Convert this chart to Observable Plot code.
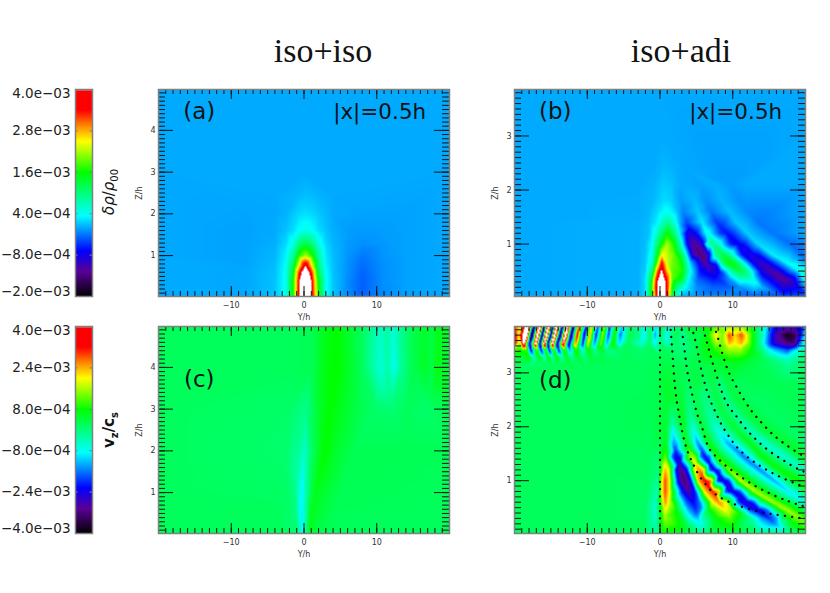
<!DOCTYPE html>
<html>
<head>
<meta charset="utf-8">
<script src="https://cdn.jsdelivr.net/npm/d3@7"></script>
<script src="https://cdn.jsdelivr.net/npm/@observablehq/plot@0.6"></script>
<style>
  body { margin: 0; background: #fff; }
  #fig { position: relative; width: 830px; height: 593px; overflow: hidden; }
  #fig svg { position: absolute; background: transparent; }
  .title { position: absolute; top: 32px; width: 200px; text-align: center; font: 34px "Liberation Serif"; color: #111; }
  .barlabel { position: absolute; width: 120px; text-align: center; transform: rotate(-90deg); font: 15px "DejaVu Sans"; color: #111; white-space: nowrap; }
  .barlabel sub { font-size: 10px; }
</style>
</head>
<body>
<div id="fig"></div>
<script>
// all field values are in units of 1e-3
const rampStops = [0, 0.12, 0.22, 0.39, 0.6, 0.75, 0.82, 0.9, 0.995, 1]
const rampColors = ['#000000', '#5a0096', '#0000ff', '#00ffff', '#00ff00', '#ffff00', '#ff9000', '#ff0000', '#ff0000', '#ffffff']

const barTicksTop = [-2, -0.8, 0.4, 1.6, 2.8, 4]
const barLabelsTop = ['−2.0e−03', '−8.0e−04', '4.0e−04', '1.6e−03', '2.8e−03', '4.0e−03']
const barTicksBottom = [-4, -2.4, -0.8, 0.8, 2.4, 4]
const barLabelsBottom = ['−4.0e−03', '−2.4e−03', '−8.0e−04', '8.0e−04', '2.4e−03', '4.0e−03']

// panel a: rows at height z, each a list of [Y, value] knots
const panelAz = [0.02, 0.4, 0.6, 0.75, 1, 1.3, 1.6, 2, 2.45, 3, 4.98]
const panelArows = [
  [[-20,0],[-13,0],[-8,-0.01],[-4,0.1],[-2.5,0.4],[-1.5,1.6],[-0.8,3.4],[-0.5,4.4],[0.2,7],[0.9,4.4],[1.2,3.4],[2,1.7],[3,0.4],[4,0.12],[6,-0.12],[8,-0.3],[11,-0.12],[14,-0.03],[20,0]],
  [[-20,0],[-13,0],[-8,-0.01],[-4,0.1],[-2.5,0.4],[-1.5,1.6],[-0.8,3.3],[-0.5,4.2],[0.2,5.5],[0.9,4.2],[1.2,3.3],[2,1.5],[3,0.4],[4,0.12],[6,-0.12],[8,-0.3],[11,-0.1],[14,-0.03],[20,0]],
  [[-20,0],[-13,0],[-8,-0.01],[-4,0.09],[-2.5,0.38],[-1.5,1.4],[-0.8,3],[-0.3,4],[0.2,4.8],[0.7,4],[1.2,3],[2,1.2],[3,0.35],[4,0.1],[6,-0.1],[8,-0.28],[11,-0.1],[14,-0.03],[20,0]],
  [[-20,0],[-13,0],[-8,-0.02],[-4,0.08],[-2.5,0.35],[-1.5,1.2],[-0.8,2.3],[0.2,4],[1.2,2.3],[2,1],[3,0.3],[4,0.1],[6,-0.1],[8,-0.25],[11,-0.1],[14,-0.03],[20,0]],
  [[-20,0],[-13,-0.02],[-8,-0.03],[-4,0.05],[-2.5,0.28],[-1.5,0.8],[-0.8,1.6],[0.2,2.2],[1.2,1.6],[2,0.8],[3,0.25],[4,0.08],[6,-0.08],[8,-0.2],[11,-0.08],[14,-0.03],[20,0]],
  [[-20,0],[-13,-0.02],[-8,-0.03],[-4,0.02],[-2.5,0.18],[-1.5,0.45],[-0.8,0.9],[0.2,1.2],[1.2,0.9],[2,0.45],[3,0.17],[4,0.05],[6,-0.06],[8,-0.1],[11,-0.06],[14,-0.03],[20,0]],
  [[-20,0],[-13,-0.02],[-8,-0.03],[-4,0],[-2.5,0.1],[-1.5,0.2],[-0.8,0.35],[0.2,0.45],[1.2,0.35],[2,0.2],[3,0.1],[4,0.02],[6,-0.05],[8,-0.06],[11,-0.05],[14,-0.03],[20,0]],
  [[-20,0],[-8,-0.02],[-4,-0.01],[-2.5,0.03],[-0.8,0.18],[0.2,0.22],[1.2,0.18],[2,0.12],[3,0.06],[4,0],[8,-0.03],[14,-0.03],[20,0]],
  [[-20,0],[-4,0],[-0.8,0.05],[0.2,0.08],[1.2,0.07],[2,0.04],[4,0],[20,0]],
  [[-20,0],[0,0],[20,0]],
  [[-20,0],[0,0],[20,0]]
]

// panel b: central lobe as rows, the slanted waves as crest/trough lists of [Y, z, value]
const panelBz = [0.03, 0.2, 0.35, 0.5, 0.65, 0.8, 1, 1.2, 1.4, 1.6, 1.8, 2.1, 2.45, 3, 3.86]
const panelBrows = [
  [[-20,0],[-3,0.02],[-2,0.2],[-1,1.9],[-0.5,3.4],[0.2,6],[1,3.4],[1.5,2],[2.2,0.6],[3,0.05],[5,-0.1],[9,-0.15],[13,-0.3],[17,-0.45],[20,-0.3]],
  [[-20,0],[-3,0.02],[-2,0.2],[-1.2,1.5],[-0.6,3.4],[0.2,5.5],[1,3.4],[1.7,1.6],[2.6,0.8],[3.6,0.3],[5,-0.1],[7.3,-0.3],[9.5,-0.3],[11,-0.1]],
  [[-20,0],[-3,0.02],[-2,0.2],[-1.2,1.3],[-0.5,3.4],[0.2,4.8],[0.95,3.4],[1.7,1.9],[3,1.4],[4,0.3],[5.2,-0.3],[9.5,-0.1]],
  [[-20,0],[-3,0.02],[-2,0.15],[-1.1,0.9],[-0.4,2.9],[0.2,4.2],[0.85,2.9],[1.7,1.9],[3,1.7],[4.3,0.3]],
  [[-20,0],[-3,0.02],[-2,0.12],[-1,0.6],[-0.4,1.9],[0.25,3.5],[0.9,2.4],[1.7,2],[3,1.6],[4.2,0.1]],
  [[-20,0],[-3,0.02],[-2,0.1],[-1,0.5],[-0.3,1.5],[0.3,2.5],[1,2.3],[2,1.9],[3.2,1]],
  [[-20,0],[-3,0.02],[-2,0.08],[-1,0.4],[-0.2,1.2],[1,2.2],[2,1.6],[2.9,0.6]],
  [[-20,0],[-3,0.02],[-1.5,0.1],[-0.6,0.45],[0.3,1.1],[1,1.6],[2,1],[2.7,0.3]],
  [[-20,0],[-3,0.02],[-1.5,0.08],[-0.5,0.25],[0.3,0.6],[1,0.9],[1.8,0.6],[2.6,0.1]],
  [[-20,0],[-3,0.01],[-1.5,0.05],[-0.3,0.2],[0.8,0.4],[1.7,0.28],[2.5,0.05]],
  [[-20,0],[-3,0.01],[-1,0.05],[0.5,0.2],[1.5,0.16]],
  [[-20,0],[-3,0],[-1,0.03],[0.5,0.13],[1.5,0.1],[3,0],[7.5,0.02],[12,0],[20,0]],
  [[-20,0],[-3,0],[-1,0],[0.5,0.05],[1.7,0.03],[3,0],[20,0]],
  [[-20,0],[0,0],[20,0]],
  [[-20,0],[0,0],[20,0]]
]
const panelBwaves = [
  [[7.9,0.38,-0.6],[7.6,0.43,-0.8],[7.3,0.48,-0.9],[7,0.54,-1],[6.7,0.6,-1.15],[6.3,0.67,-1.3],[5.9,0.74,-1.4],[5.5,0.8,-1.45],[5.2,0.9,-1.4],[4.8,1,-1.3],[4.5,1.1,-1.1],[4.2,1.2,-0.9],[3.95,1.3,-0.65],[3.7,1.4,-0.4],[3.4,1.5,-0.25],[3.2,1.6,-0.15],[2.9,1.8,-0.05]],
  [[5.7,0.6,-0.85],[4.5,0.8,-1],[3.9,1,-0.9],[3.5,1.2,-0.6],[8.3,0.48,-0.55],[7.7,0.6,-0.8],[6.6,0.8,-1],[5.8,1,-0.9],[5.1,1.2,-0.6]],
  [[14,0.2,0.05],[13.4,0.27,0.3],[12.8,0.33,0.5],[11.9,0.42,0.9],[11,0.5,1.3],[10.3,0.58,1.5],[9.7,0.65,1.6],[9.1,0.73,1.5],[8.7,0.8,1.3],[8,0.9,1.1],[7.3,1,0.9],[6.9,1.1,0.7],[6.5,1.2,0.5],[6.1,1.3,0.35],[5.8,1.4,0.25],[5.2,1.6,0.12],[4.8,1.8,0.06]],
  [[10,0.5,0.9],[8.7,0.65,1.1],[7.7,0.8,0.9],[6.5,1,0.6],[12,0.5,0.9],[10.7,0.65,1.1],[9.6,0.8,0.9],[8.1,1,0.6]],
  [[20,0.12,-0.4],[19,0.2,-0.7],[18,0.28,-1.05],[17,0.35,-1.3],[16.1,0.43,-1.3],[15.3,0.5,-1.2],[14.6,0.58,-1.1],[14,0.65,-1],[13.2,0.73,-0.9],[12.5,0.8,-0.85],[11.6,0.9,-0.8],[10.7,1,-0.75],[9.9,1.1,-0.7],[9.2,1.2,-0.65],[8.5,1.3,-0.55],[7.8,1.4,-0.45],[7,1.6,-0.2],[6.3,1.8,-0.1],[5.5,2.1,-0.03]],
  [[15.7,0.35,-0.9],[14,0.5,-0.85],[12.8,0.65,-0.7],[11.3,0.8,-0.6],[9.7,1,-0.55],[8.3,1.2,-0.45],[18.3,0.35,-0.9],[16.5,0.5,-0.85],[15.1,0.65,-0.7],[13.7,0.8,-0.6],[11.7,1,-0.55],[10.1,1.2,-0.45]],
  [[20,0.35,0.5],[20,0.45,0.7],[19.5,0.5,0.55],[18.5,0.58,0.45],[17.5,0.65,0.35],[16.5,0.73,0.3],[15.5,0.8,0.28],[14.5,0.9,0.25],[13.5,1,0.2],[12.7,1.1,0.17],[12,1.2,0.15],[10.5,1.4,0.12],[9.5,1.6,0.08],[8.5,1.8,0.04]],
  [[20,0.72,-0.2],[19.5,0.8,-0.25],[18,1,-0.25],[15.5,1.2,-0.2],[13.5,1.4,-0.2],[12,1.6,-0.12],[11,1.8,-0.1],[9.5,2.1,-0.05]],
  [[20,1.2,0],[20,1.6,0]]
]

const panelCz = [0.02, 0.5, 1, 1.5, 2, 3, 4, 4.98]
const panelCrows = [
  [[-20,0.2],[-3,0.2],[-1,0.1],[-0.2,-0.9],[0.3,0],[0.7,0.6],[2,0.3],[5,0.2],[20,0.2]],
  [[-20,0.2],[-3,0.2],[-1.2,0],[-0.3,-1],[0.3,-0.2],[1,0.65],[2,0.45],[4,0.25],[20,0.2]],
  [[-20,0.2],[-2.5,0.15],[-1.2,-0.1],[-0.3,-0.95],[0.5,-0.1],[1.5,0.65],[3,0.45],[5,0.25],[20,0.2]],
  [[-20,0.2],[-2.5,0.12],[-0.9,-0.3],[-0.1,-0.7],[0.8,0.1],[2.2,0.75],[3.8,0.5],[6,0.25],[20,0.22]],
  [[-20,0.2],[-2.5,0.1],[-0.8,-0.2],[0.1,-0.5],[1.4,0.3],[2.8,0.8],[4.5,0.5],[7,0.25],[14,0.25],[20,0.25]],
  [[-20,0.2],[-2,0.12],[0.3,-0.1],[2,0.5],[3.6,0.8],[5.5,0.55],[7.5,0.3],[10,0.1],[12,0.05],[14,0.2],[17,0.1],[20,0.3]],
  [[-20,0.2],[-3,0.2],[1,0.25],[3,0.7],[4.5,0.82],[6.5,0.5],[8,0.2],[9.5,-0.3],[10.5,-0.65],[11.5,-0.3],[12.3,-0.75],[13.5,-0.15],[15,0.3],[16.7,0.55],[17.5,0.35],[18.5,0.7],[20,0.4]],
  [[-20,0.2],[-3,0.2],[1,0.25],[3,0.65],[4.5,0.8],[6.5,0.45],[8,0.2],[9.5,-0.25],[10.5,-0.5],[11.5,-0.25],[12.3,-0.6],[13.5,-0.1],[15,0.3],[16.7,0.5],[17.5,0.35],[18.5,0.65],[20,0.4]]
]

// panel d: crests and troughs as lists of [Y, z, value], plus the wave band along the top as rows
const panelDwaves = [
  [[-0.4,0.03,-0.2],[-0.5,0.15,-0.3],[-0.6,0.3,-0.5],[-0.6,0.45,-0.6],[-0.5,0.6,-0.5],[-0.3,0.8,-0.4],[-0.3,1,-0.2],[-0.2,1.2,0],[-0.2,1.45,0.1],[0,1.7,0.25],[0,1.95,0.4],[0,2.2,0.4]],
  [[0.5,0.03,0.8],[0.6,0.15,1.1],[0.65,0.3,1.5],[0.7,0.45,2],[0.7,0.6,2.6],[0.7,0.8,2.9],[0.7,1,2.9],[0.7,1.2,2.4],[0.75,1.45,1.2],[0.8,1.7,0.6],[0.9,1.95,0.5],[1,2.2,0.4],[1.1,2.5,0.5],[1,2.8,0.5]],
  [[0.25,0.8,1.9],[0.25,1,1.9],[1.3,0.45,1.4],[1.3,0.6,1.8],[1.3,0.8,2],[1.3,1,2],[1.3,1.2,1.7]],
  [[5.8,0.12,-0.5],[5.5,0.22,-0.9],[5.2,0.3,-1.2],[5,0.4,-1.8],[4.8,0.5,-2.1],[4.5,0.6,-2.3],[4.2,0.7,-2.6],[3.9,0.8,-2.9],[3.6,0.9,-3.2],[3.3,1,-3.3],[3.1,1.1,-3.3],[2.9,1.2,-3.1],[2.65,1.32,-2.8],[2.3,1.45,-2.4],[2.1,1.58,-1.9],[1.95,1.7,-1.4],[1.85,1.82,-1.1],[1.75,1.95,-0.8],[1.7,2.08,-0.3],[1.7,2.2,-0.05]],
  [[3.9,0.5,-1.5],[3.6,0.6,-1.7],[3,0.8,-2.1],[2.5,1,-2.4],[2.2,1.2,-2.2],[1.7,1.45,-1.7],[1.55,1.7,-1],[5.7,0.5,-1.5],[5.4,0.6,-1.7],[4.8,0.8,-2.1],[4.2,1,-2.4],[3.7,1.2,-2.2],[3,1.45,-1.7],[2.45,1.7,-1]],
  [[10.5,0.03,0.5],[10,0.15,0.8],[9.7,0.3,1.2],[9.3,0.38,1.7],[9,0.45,2],[8.6,0.52,2.3],[8.1,0.6,2.6],[7.7,0.7,2.9],[7.2,0.8,3.1],[6.7,0.9,3.3],[6.2,1,3.3],[5.8,1.1,3],[5.4,1.2,2.6],[4.9,1.32,2.1],[4.4,1.45,1.5],[4,1.58,1.1],[3.7,1.7,0.7],[3.4,1.82,0.65],[3.2,1.95,0.6],[2.9,2.2,0.6],[2.7,2.5,0.5]],
  [[8,0.45,1.4],[7.2,0.6,1.9],[6.2,0.8,2.2],[5.3,1,2.4],[4.7,1.2,1.9],[3.8,1.45,1.1],[10,0.45,1.4],[9.1,0.6,1.9],[8.1,0.8,2.2],[7.1,1,2.4],[6.1,1.2,1.9],[5,1.45,1.1]],
  [[17.5,0.03,-0.2],[16.3,0.15,-1.1],[15.6,0.22,-1.6],[15,0.3,-2],[14.2,0.38,-2.3],[13.5,0.45,-2.5],[12.6,0.52,-2.6],[11.8,0.6,-2.6],[10.9,0.7,-2.55],[10,0.8,-2.5],[9.3,0.9,-2.55],[8.7,1,-2.6],[8.1,1.1,-2.5],[7.5,1.2,-2.4],[6.8,1.32,-2.3],[6.2,1.45,-2.2],[5.7,1.58,-1.9],[5.2,1.7,-1.5],[4.9,1.82,-1.1],[4.6,1.95,-0.7],[4.2,2.2,-0.2],[3.9,2.5,0]],
  [[14,0.3,-1.4],[12.4,0.45,-1.8],[10.8,0.6,-1.9],[9,0.8,-1.8],[7.9,1,-1.9],[6.8,1.2,-1.7],[5.6,1.45,-1.6],[16,0.3,-1.4],[14.6,0.45,-1.8],[12.8,0.6,-1.9],[11,0.8,-1.8],[9.5,1,-1.9],[8.2,1.2,-1.7],[6.8,1.45,-1.6]],
  [[20,0.15,1.1],[19.5,0.3,1.4],[18.5,0.37,1.5],[17.5,0.45,1.6],[16.5,0.52,1.6],[15.5,0.6,1.6],[14.2,0.7,1.65],[13,0.8,1.7],[12,0.9,1.7],[11,1,1.7],[10.2,1.1,1.6],[9.4,1.2,1.4],[8.6,1.32,1.2],[7.8,1.45,1],[7.2,1.58,0.85],[6.6,1.7,0.7],[6.2,1.82,0.6],[5.9,1.95,0.5],[5.3,2.2,0.4],[4.9,2.5,0.3]],
  [[20,0.6,-0.7],[19,0.68,-0.85],[17.6,0.8,-1],[16.7,0.9,-1.15],[15.7,1,-1.3],[14.7,1.1,-1.4],[13.8,1.2,-1.5],[12.6,1.32,-1.55],[11.5,1.45,-1.6],[10.4,1.58,-1.45],[9.3,1.7,-1.3],[8.6,1.82,-1],[7.9,1.95,-0.7],[7,2.2,-0.3],[6.2,2.5,-0.1]],
  [[20,0.9,0.9],[19.7,0.95,0.9],[18,1.07,0.85],[16.5,1.2,0.8],[15.2,1.32,0.78],[14,1.45,0.75],[13.1,1.58,0.72],[12.3,1.7,0.7],[11.3,1.82,0.6],[10.5,1.95,0.5],[9,2.2,0.4],[8,2.5,0.35],[7.2,2.8,0.3]],
  [[20,1.2,-0.5],[18.5,1.32,-0.55],[17,1.45,-0.6],[15.6,1.58,-0.6],[14.3,1.7,-0.6],[13.2,1.82,-0.5],[12.2,1.95,-0.4],[10.5,2.2,-0.2],[9,2.5,-0.1],[8.2,2.8,-0.05]],
  [[20,1.4,0.6],[19.5,1.45,0.6],[18.2,1.58,0.55],[17,1.7,0.5],[15.7,1.82,0.5],[14.5,1.95,0.5],[12.5,2.2,0.45],[10.7,2.5,0.4],[9.5,2.8,0.35],[8.5,3.1,0.5]],
  [[20,1.7,0.1],[17.5,1.95,0.15],[15,2.2,0.15],[13,2.5,0.15]],
  [[20,2.2,0.25],[20,2.8,0.25],[16,2.8,0.25],[13,2.8,0.25],[11,2.8,0.2],[6.5,2.8,0.15],[5,2.8,0.35],[3.5,2.8,0.2],[2,2.8,0.4],[0.5,2.8,0.5],[-0.5,2.8,0.25]],
  [[3,0.03,0.6],[5.2,0.03,0],[7,0.03,0.4],[13,0.03,0.2],[20,0.03,0.5],[2.6,0.15,0.8],[7.5,0.15,0.5],[7.5,0.3,0.6],[12.5,0.3,-0.2],[2.2,0.45,0.8],[6.7,0.45,0.6],[3.8,0.15,0.3]],
  [[-20,0.02,0.2],[-20,1,0.2],[-20,2,0.2],[-10,0.02,0.2],[-10,1.5,0.2],[-10,3,0.2],[-2,0.03,0.2],[-2,0.6,0.15],[-1.5,1,0.18],[-1.5,1.5,0.2],[-1,2.2,0.25]]
]
const panelDz = [3.1, 3.2, 3.28, 3.42, 3.55, 3.7, 3.86]
const panelDrows = [
  [[-20,0.2],[-15,0.2],[-10,0.2],[-3,0.2],[0.5,0.4],[3,0.25],[6,0.3],[10,0.5],[12,0.35],[14,0.25],[16,0.1],[17.5,-0.1],[20,0.2]],
  [[-20,0.3],[-18,0.4],[-17.3,-0.05],[-16.5,0.4],[-15.8,-0.05],[-15.2,0.4],[-14.6,0],[-14,0.4],[-13.3,0],[-12.6,0.35],[-12,0.1],[-11,0.3],[-9,0.25],[-5,0.2],[0,0.25],[5,0.3],[8,0.5],[9.5,0.6],[11,0.6],[12.5,0.4],[14.5,0.2],[16,0],[17.5,-0.3],[19,0],[20,0.2]],
  [[-20,0.4],[-19,0.4],[-18,0.8],[-17.3,-0.4],[-16.5,0.8],[-15.8,-0.4],[-15.3,0.8],[-14.7,-0.4],[-14.2,0.8],[-13.4,-0.3],[-12.7,0.6],[-12,-0.1],[-11.2,0.5],[-10.3,0],[-9.5,0.4],[-8,0.3],[-5,0.25],[0,0.3],[5,0.3],[8,0.6],[9.5,0.9],[11,0.9],[12.5,0.5],[14.5,0.1],[16,-0.3],[17.5,-0.6],[19,-0.2],[20,0.2]],
  [[-20,1],[-19,0.9],[-18.3,1],[-17.7,-2.4],[-16.9,1.2],[-16.3,-2.4],[-15.7,1.2],[-15.2,-2.4],[-14.6,1.2],[-13.9,-2.2],[-13.1,1.1],[-12.4,-1.4],[-11.5,1],[-10.5,-0.7],[-9.8,0.8],[-8.9,-0.2],[-8,0.6],[-7.2,-0.1],[-5.5,0.1],[-2.5,0.1],[1,0.2],[5,0.3],[7.5,0.9],[9.5,1.5],[11,1.5],[12.5,0.8],[14.5,-0.4],[15.8,-1.2],[17.5,-1.8],[19,-0.7],[20,0]],
  [[-20,3.5],[-19.2,1.5],[-18.7,5],[-17.9,-3.2],[-17.1,5],[-16.5,-3.4],[-15.9,5],[-15.4,-3.4],[-14.8,5],[-14.1,-3.4],[-13.3,4.5],[-12.5,-3],[-11.6,2.8],[-10.6,-2.2],[-9.9,2.1],[-9,-1.6],[-8.1,1.4],[-7.3,-1.3],[-6.5,0.9],[-5.6,-1.1],[-4.5,0.2],[-2.5,-0.6],[-1.5,0.1],[-0.8,-0.8],[0.1,0.1],[0.9,-0.6],[2,0.2],[3.2,-0.1],[5,0.3],[7,0.9],[7.8,1.6],[8.6,1.3],[9.5,2.4],[10.3,2],[11.2,2.4],[12.3,1.3],[13.5,0.1],[14.6,-1.3],[15.6,-2.5],[17.2,-3.1],[18.4,-3.3],[19.3,-1.6],[20,-0.5]],
  [[-20,3.8],[-19.4,2],[-18.4,6],[-17.6,-4.5],[-16.8,6],[-16.2,-4],[-15.6,6],[-15,-4],[-14.5,6],[-13.7,-4],[-13,6],[-12.2,-3.6],[-11.4,3.6],[-10.4,-2.8],[-9.7,2.7],[-8.8,-2.2],[-7.9,1.7],[-7.1,-2],[-6.3,1],[-5.5,-1.6],[-4.3,0.2],[-3,0],[-2.3,-1],[-1.3,0.2],[-0.7,-1.4],[0.1,0.2],[0.9,-0.8],[2,0.3],[3.2,-0.2],[4.5,0.4],[5.5,0.2],[6.5,0.7],[7.7,2],[8.6,1.4],[9.5,2.9],[10.3,2.2],[11.2,2.9],[12.3,1.4],[13.2,0.3],[14.2,-0.6],[15.2,-2],[16.2,-3],[17.4,-3.8],[18.5,-3.6],[19.3,-2.3],[20,-0.9]],
  [[-20,3],[-19.1,2],[-18.1,6],[-17.3,-4],[-16.5,6],[-15.9,-3.5],[-15.3,6],[-14.7,-3.5],[-14.2,6],[-13.4,-3.5],[-12.7,5],[-11.9,-3.2],[-11.1,3.2],[-10.1,-2.4],[-9.4,2.2],[-8.5,-1.8],[-7.6,1.4],[-6.8,-1.6],[-6,0.9],[-5.2,-1.2],[-4,0.2],[-2.1,-0.7],[-1.1,0.2],[-0.5,-1],[0.3,0.2],[1.1,-0.5],[3,0.2],[5,0.5],[7,0.8],[8,1.3],[9.5,1.5],[11.2,1.5],[12.5,0.8],[13.5,0.1],[14.5,-0.8],[15.5,-2],[17,-2.5],[18.5,-2.5],[19.5,-2.2],[20,-1.5]]
]

// dotted curves of panel d, [Y, z]
const dottedCurves = [
  [[0,0.03],[0,1],[0,2],[0,3],[0,3.82]],
  [[1.47,3.8],[1.6,3.57],[1.74,3.32],[1.92,2.95],[2.06,2.73],[2.29,2.46],[2.61,2.24],[3.07,1.87],[3.8,1.51],[4.58,1.31],[5.27,1.1],[6.41,0.91],[7.33,0.76],[9.39,0.6],[11.91,0.48],[14.66,0.39],[16.95,0.35],[19.7,0.3]],
  [[2.98,3.8],[3.21,3.6],[3.34,3.46],[3.66,3.1],[3.94,2.89],[4.35,2.64],[4.81,2.39],[5.27,2.15],[5.73,2.04],[6.18,1.78],[6.78,1.56],[7.79,1.44],[8.93,1.28],[10.63,1.12],[12.83,0.91],[15.57,0.73],[17.87,0.6],[19.93,0.52]],
  [[4.58,3.74],[5.04,3.51],[5.36,3.26],[5.73,3.01],[6.41,2.67],[7.01,2.44],[7.79,2.23],[8.47,2.02],[9.39,1.84],[10.31,1.65],[11.68,1.47],[13.28,1.31],[15.12,1.16],[17.41,1.01],[19.7,0.89]],
  [[6.18,3.69],[6.64,3.48],[7.1,3.23],[7.92,2.89],[8.7,2.55],[9.62,2.33],[10.31,2.23],[11.22,2.06],[12.37,1.87],[13.51,1.72],[15.12,1.53],[16.95,1.38],[18.78,1.22],[19.93,1.16]],
  [[7.7,3.76],[8.02,3.63],[8.25,3.51],[8.93,3.18],[9.62,2.95],[10.54,2.73],[11.45,2.52],[12.37,2.33],[13.06,2.21],[14.2,2.04],[15.35,1.87],[16.72,1.72],[18.32,1.57],[19.93,1.44]]
]

const fig = d3.select('#fig')

function place(svg, left, top) {
  svg.style.left = left + 'px'
  svg.style.top = top + 'px'
  fig.append(() => svg)
}

function rampFor(lo, hi) {
  return {type: 'linear', domain: rampStops.map(t => lo + (hi - lo) * t), range: rampColors, clamp: true}
}

const rowPoints = (zs, rows) => zs.flatMap((z, i) => rows[i].map(([Y, v]) => ({Y, z, v})))
const wavePoints = waves => waves.flat().map(([Y, z, v]) => ({Y, z, v}))

function panel(o) {
  const innerW = 291, innerH = 207
  const [z0, z1] = o.yDomain
  const pxY = 40 / innerW, pxZ = (z1 - z0) / innerH
  const minorX = d3.range(-20, 21)
  const minorY = d3.range(0.1, z1, 0.1).filter(d => d > z0)
  const majorX = [-10, 0, 10]
  const xTicks = (vals, len) => [
    Plot.ruleX(vals, {x: d => d, y1: z0, y2: z0 + len * pxZ, stroke: '#111'}),
    Plot.ruleX(vals, {x: d => d, y1: z1, y2: z1 - len * pxZ, stroke: '#111'})
  ]
  const yTicks = (vals, len) => [
    Plot.ruleY(vals, {y: d => d, x1: -20, x2: -20 + len * pxY, stroke: '#111'}),
    Plot.ruleY(vals, {y: d => d, x1: 20, x2: 20 - len * pxY, stroke: '#111'})
  ]
  const marks = [
    Plot.raster(o.points, {x: 'Y', y: 'z', fill: 'v', interpolate: 'barycentric'}),
    ...(o.curves || []).map(c => Plot.line(c, {x: d => d[0], y: d => d[1], stroke: '#000', strokeWidth: 2.2, strokeDasharray: '0.1 7.2', curve: 'basis'})),
    ...xTicks(minorX, 5), ...xTicks(majorX, 10),
    ...yTicks(minorY, 7), ...yTicks(o.yTicks, 15),
    Plot.axisX({ticks: majorX, tickSize: 0, tickPadding: 6, label: 'Y/h', labelAnchor: 'center', labelArrow: 'none', labelOffset: 23, fontSize: 8, fill: '#333'}),
    Plot.axisY({ticks: o.yTicks, tickSize: 0, tickPadding: 3, tickFormat: 'd', label: 'Z/h', labelAnchor: 'center', labelArrow: 'none', labelOffset: 22, fontSize: 8, fill: '#333'}),
    Plot.frame({stroke: '#808080', strokeWidth: 1.5}),
    Plot.text([o.tag], {x: -14.4, y: o.tagZ, text: d => d, fontSize: 23, fontFamily: 'DejaVu Sans', fill: '#111'})
  ]
  if (o.note) marks.push(Plot.text([o.note], {x: 10.4, y: o.tagZ, text: d => d, fontSize: 21.5, fontFamily: 'DejaVu Sans', fill: '#111'}))
  const svg = Plot.plot({
    width: innerW + 36, height: innerH + 32,
    marginLeft: 30, marginRight: 6, marginTop: 6, marginBottom: 26,
    style: {fontFamily: 'DejaVu Sans', background: 'transparent'},
    x: {domain: [-20, 20]},
    y: {domain: o.yDomain},
    color: rampFor(o.lo, o.hi),
    marks
  })
  place(svg, o.left - 30, o.top - 6)
}

function colorBar(lo, hi, ticks, labels, top) {
  const innerH = 207
  const pairs = ticks.map((t, i) => ({t, label: labels[i]}))
  const labelMark = (data, dy) => Plot.text(data, {x: 0, y: 't', text: 'label', textAnchor: 'end', dx: -5, dy, fontSize: 13.5, fontFamily: 'DejaVu Sans', fill: '#222'})
  const svg = Plot.plot({
    width: 95, height: innerH + 12,
    marginLeft: 75, marginRight: 3, marginTop: 6, marginBottom: 6,
    style: {background: 'transparent', overflow: 'visible'},
    x: {domain: [0, 1], axis: null},
    y: {domain: [lo, hi], axis: null},
    color: rampFor(lo, hi),
    marks: [
      Plot.raster({x1: 0, x2: 1, y1: lo, y2: hi, fill: (x, y) => y, pixelSize: 1}),
      Plot.ruleY(ticks, {y: d => d, x1: 0, x2: 0.15, stroke: '#808080'}),
      Plot.ruleY(ticks, {y: d => d, x1: 1, x2: 0.85, stroke: '#808080'}),
      Plot.frame({stroke: '#808080', strokeWidth: 1.5}),
      labelMark(pairs.slice(1, -1), 0),
      labelMark(pairs.slice(-1), 4),
      labelMark(pairs.slice(0, 1), -5)
    ]
  })
  place(svg, 0, top - 6)
}

colorBar(-2, 4, barTicksTop, barLabelsTop, 89)
colorBar(-4, 4, barTicksBottom, barLabelsBottom, 326)

panel({left: 157.5, top: 89, lo: -2, hi: 4, points: rowPoints(panelAz, panelArows), yDomain: [0.02, 4.98], yTicks: [1, 2, 3, 4],
  tag: '(a)', tagZ: 4.45, note: '|x|=0.5h'})
panel({left: 514, top: 89, lo: -2, hi: 4, points: [...rowPoints(panelBz, panelBrows), ...wavePoints(panelBwaves)], yDomain: [0.03, 3.86], yTicks: [1, 2, 3],
  tag: '(b)', tagZ: 3.45, note: '|x|=0.5h'})
panel({left: 157.5, top: 326, lo: -4, hi: 4, points: rowPoints(panelCz, panelCrows), yDomain: [0.02, 4.98], yTicks: [1, 2, 3, 4],
  tag: '(c)', tagZ: 3.7})
panel({left: 514, top: 326, lo: -4, hi: 4, points: [...wavePoints(panelDwaves), ...rowPoints(panelDz, panelDrows)], yDomain: [0.02, 3.86], yTicks: [1, 2, 3],
  tag: '(d)', tagZ: 2.85, curves: dottedCurves})

fig.append('div').attr('class', 'title').style('left', '223px').text('iso+iso')
fig.append('div').attr('class', 'title').style('left', '581px').text('iso+adi')
fig.append('div').attr('class', 'barlabel').style('left', '50px').style('top', '182px').html('<i>δρ</i>/<i>ρ</i><sub>00</sub>')
fig.append('div').attr('class', 'barlabel').style('left', '50px').style('top', '420px').html('<b>v<sub>z</sub>/c<sub>s</sub></b>')
</script>
</body>
</html>
